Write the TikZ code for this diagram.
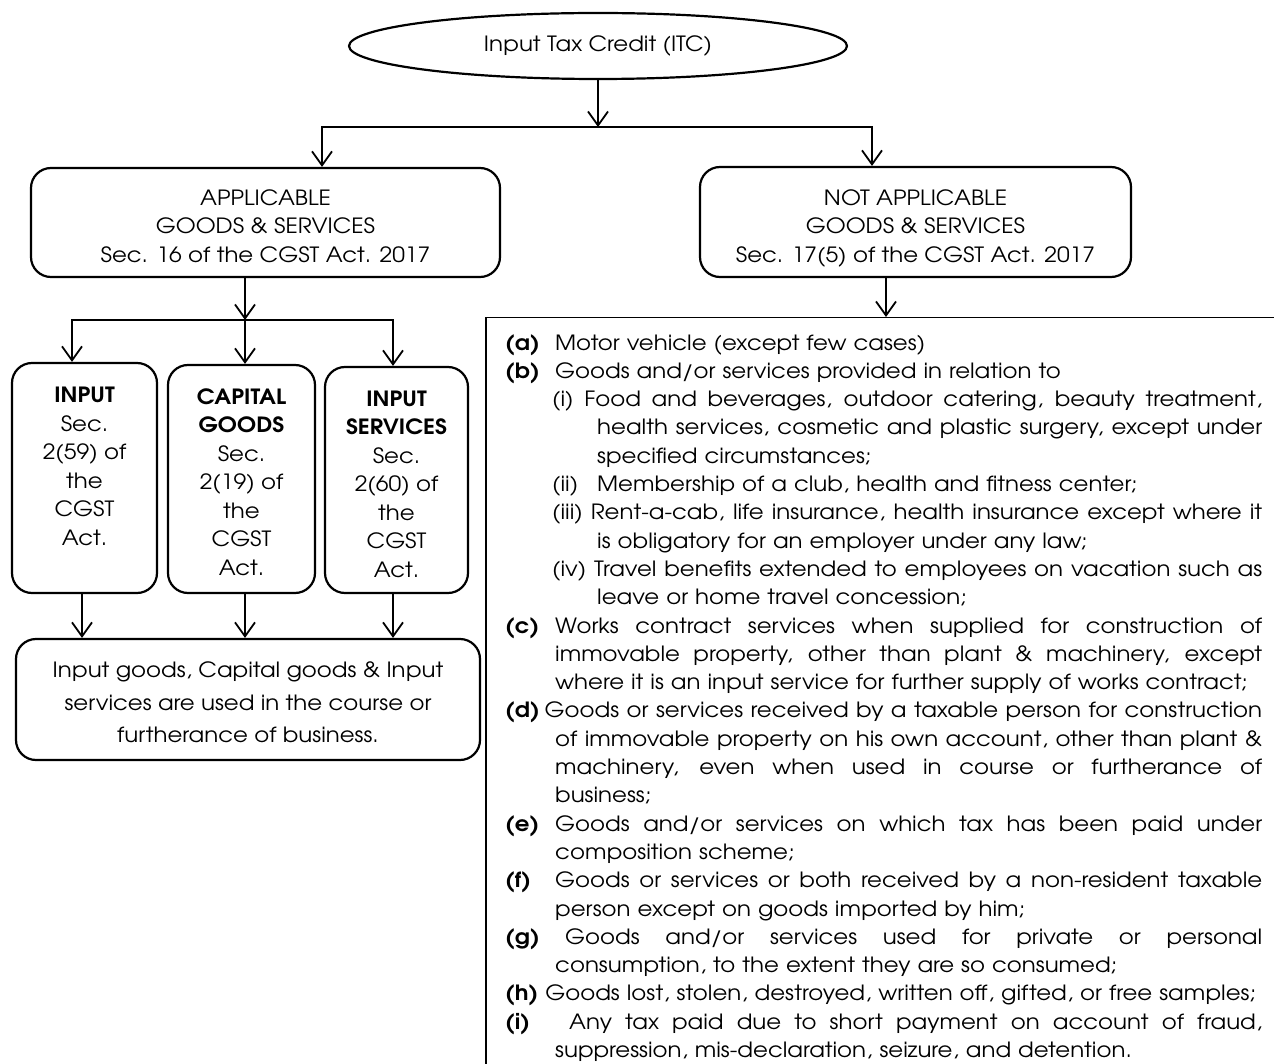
\documentclass[tikz,border=0pt]{standalone}
\usepackage{fontspec}
\setmainfont{texgyreadventor}[Extension=.otf, UprightFont=*-regular, BoldFont=*-bold, ItalicFont=*-italic, BoldItalicFont=*-bolditalic, FakeStretch=1.09]
\usetikzlibrary{arrows.meta, shapes.geometric}
\newcommand\JL[2]{\hspace*{#1}\hbox to \dimexpr757pt-#1\relax{\spaceskip=\fontdimen2\font plus 1fil minus 0.1\fontdimen2\font\relax\xspaceskip=\spaceskip #2}}
\newcommand\RL[2]{\hspace*{#1}#2}
\newcommand\LB[1]{\makebox[50pt][l]{\bfseries #1}}
\newcommand\LS[1]{\makebox[45pt][l]{#1}}
\newcommand\SB[4]{\parbox[c][#2][t]{#1}{\centering\rule{0pt}{#3}#4}}
\begin{document}
\begin{tikzpicture}[x=1pt, y=-1pt,
  box/.style={draw, line width=2.2pt, rounded corners=20pt, align=center, inner sep=0pt},
  arr/.style={line width=1.8pt, -{Straight Barb[length=14pt, width=20pt]}},
  font=\fontsize{21}{28.5}\selectfont]
\useasboundingbox (0,0) rectangle (1274,1064);
\clip (0,0) rectangle (1274,1064);

\node[ellipse, draw, line width=2.2pt, minimum width=498pt, minimum height=66pt, inner sep=0pt] (itc) at (598,46) {\raisebox{-1pt}{Input Tax Credit (ITC)}};

\node[box] (app) at (265.5,222.5) {\SB{469pt}{109pt}{37.5pt}{APPLICABLE\\GOODS \& SERVICES\\Sec. 16 of the CGST Act. 2017}};
\node[box] (na) at (915.5,222) {\SB{431pt}{110pt}{38.5pt}{NOT APPLICABLE\\GOODS \& SERVICES\\Sec. 17(5) of the CGST Act. 2017}};

\node[box] (in1) at (84.5,478) {\SB{145pt}{230pt}{39.5pt}{\textbf{INPUT}\\Sec.\\2(59) of\\the\\CGST\\Act.}};
\node[box] (cap) at (241.5,479) {\SB{147pt}{228pt}{39pt}{\textbf{CAPITAL}\\\textbf{GOODS}\\Sec.\\2(19) of\\the\\CGST\\Act.}};
\node[box] (ser) at (396.5,480) {\SB{143pt}{226pt}{39pt}{\textbf{INPUT}\\\textbf{SERVICES}\\Sec.\\2(60) of\\the\\CGST\\Act.}};

\node[box, font=\fontsize{21}{32.5}\selectfont] (fin) at (248,699.5) {\SB{464pt}{121pt}{38.5pt}{Input goods, Capital goods \& Input\\services are used in the course or\\furtherance of business.}};

\node[draw, line width=1.5pt, minimum width=830pt, minimum height=790pt, anchor=north west, inner sep=0pt] (frame) at (485,317) {};

\node[anchor=north west, inner sep=0pt, align=left, text width=757pt, font=\fontsize{21}{28.3}\selectfont] (items) at (505,330) {%
\strut\RL{0pt}{\LB{(a)}Motor vehicle (except few cases)}\\
\RL{0pt}{\LB{(b)}Goods and/or services provided in relation to}\\
\JL{47pt}{(i) Food and beverages, outdoor catering, beauty treatment,}\\
\JL{92pt}{health services, cosmetic and plastic surgery, except under}\\
\RL{92pt}{specified circumstances;}\\
\RL{47pt}{\LS{(ii)}Membership of a club, health and fitness center;}\\
\JL{47pt}{(iii) Rent-a-cab, life insurance, health insurance except where it}\\
\RL{92pt}{is obligatory for an employer under any law;}\\
\JL{47pt}{(iv) Travel benefits extended to employees on vacation such as}\\
\RL{92pt}{leave or home travel concession;}\\
\JL{0pt}{\LB{(c)}Works contract services when supplied for construction of}\\
\JL{50pt}{immovable property, other than plant \& machinery, except}\\
\RL{50pt}{where it is an input service for further supply of works contract;}\\
\JL{0pt}{\textbf{(d)}\hspace{5pt}Goods or services received by a taxable person for construction}\\
\JL{50pt}{of immovable property on his own account, other than plant \&}\\
\JL{50pt}{machinery, even when used in course or furtherance of}\\
\RL{50pt}{business;}\\
\JL{0pt}{\LB{(e)}Goods and/or services on which tax has been paid under}\\
\RL{50pt}{composition scheme;}\\
\JL{0pt}{\LB{(f)}Goods or services or both received by a non-resident taxable}\\
\RL{50pt}{person except on goods imported by him;}\\
\JL{0pt}{\LB{(g)}\hspace{10pt}Goods and/or services used for private or personal}\\
\RL{50pt}{consumption, to the extent they are so consumed;}\\
\RL{0pt}{\textbf{(h)} Goods lost, stolen, destroyed, written off, gifted, or free samples;}\\
\JL{0pt}{\LB{(i)}\hspace{14pt}Any tax paid due to short payment on account of fraud,}\\
\RL{50pt}{suppression, mis-declaration, seizure, and detention.}};

\coordinate (jl) at (322,127);
\coordinate (jm) at (598,127);
\coordinate (jr) at (872,127);
\draw[arr] (itc.south) -- (jm);
\draw[arr] (jm) -| (jl |- app.north);
\draw[arr] (jm) -| (jr |- na.north);

\coordinate (kl) at (72,320);
\coordinate (km) at (245,320);
\coordinate (kr) at (393,320);
\draw[arr] (app.south -| km) -- (km);
\draw[arr] (km) -| (kl |- in1.north);
\draw[arr] (km) -| (kr |- ser.north);
\draw[arr] (km) -- (km |- cap.north);

\coordinate (b1) at (82,0);
\coordinate (b2) at (245,0);
\coordinate (b3) at (393,0);
\draw[arr] (b1 |- in1.south) -- (b1 |- fin.north);
\draw[arr] (b2 |- cap.south) -- (b2 |- fin.north);
\draw[arr] (b3 |- ser.south) -- (b3 |- fin.north);

\coordinate (n1) at (886,0);
\draw[arr] (n1 |- na.south) -- (n1 |- frame.north);
\end{tikzpicture}
\end{document}
